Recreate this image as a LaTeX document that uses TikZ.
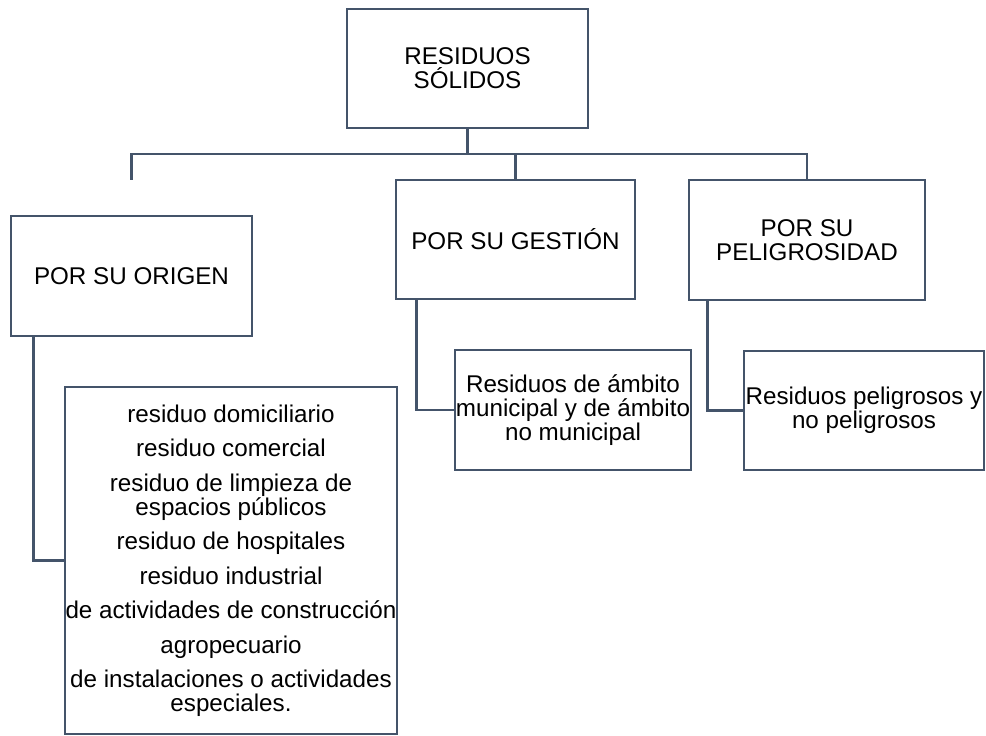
\documentclass[tikz,border=0pt]{standalone}
\usepackage{fontspec}
\setmainfont{Liberation Sans}
\usetikzlibrary{calc}
\definecolor{lineagris}{HTML}{44546A}

\begin{document}
\begin{tikzpicture}[x=1pt, y=-1pt,
    caja/.style={draw=lineagris, line width=2.7pt, rectangle, inner sep=0pt, align=center,
        font=\fontsize{24.2}{24}\selectfont},
    enlace/.style={draw=lineagris, line width=2.7pt}]
    \useasboundingbox (0,0) rectangle (986,736);

    % Top box
    \node[caja, minimum width=241pt, minimum height=119pt] (residuos) at (467.5, 68.5) {RESIDUOS\\SÓLIDOS};

    % The three criteria
    \node[caja, minimum width=241pt, minimum height=120pt] (origen) at (131.5, 276) {POR SU ORIGEN};
    \node[caja, minimum width=239pt, minimum height=119pt] (gestion) at (515.5, 239.5) {POR SU GESTIÓN};
    \node[caja, minimum width=236pt, minimum height=120pt] (peligro) at (807, 240) {POR SU\\PELIGROSIDAD};

    % Sub-boxes
    \node[caja, minimum width=332pt, minimum height=347pt] (origsub) at (231, 560.5) {%
        residuo domiciliario\\[10.5pt]
        residuo comercial\\[10.5pt]
        residuo de limpieza de\\espacios públicos\\[10.5pt]
        residuo de hospitales\\[10.5pt]
        residuo industrial\\[10.5pt]
        de actividades de construcción\\[10.5pt]
        agropecuario\\[10.5pt]
        de instalaciones o actividades\\especiales.};
    \node[caja, minimum width=236pt, minimum height=120pt] (gestsub) at (573, 410) {Residuos de ámbito\\municipal y de ámbito\\no municipal};
    \node[caja, minimum width=240pt, minimum height=119pt] (pelisub) at (864, 410.5) {Residuos peligrosos y\\no peligrosos};

    % Connectors from the top box
    \coordinate (bus) at (467.5, 154);
    \coordinate (origenstub) at (131.5, 180);
    \draw[enlace] (residuos.south) -- (bus);
    \draw[enlace] (bus) -| (origenstub);
    \draw[enlace] (bus) -| (gestion.north);
    \draw[enlace] (bus) -| (peligro.north);

    % Connectors to the sub-boxes
    \draw[enlace] ($(origen.south west) + (24, 0)$) |- (origsub.west);
    \draw[enlace] ($(gestion.south west) + (22, 0)$) |- (gestsub.west);
    \draw[enlace] ($(peligro.south west) + (20, 0)$) |- (pelisub.west);
\end{tikzpicture}
\end{document}
